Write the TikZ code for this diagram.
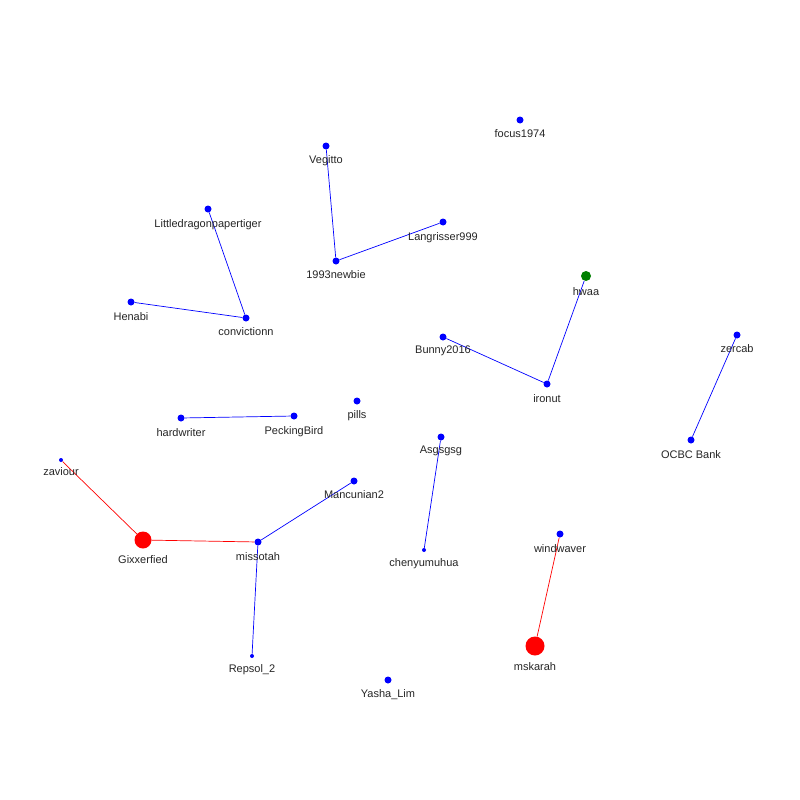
\documentclass[tikz,border=0pt]{standalone}
\usepackage{fontspec}
\setmainfont{Liberation Sans}
\begin{document}
\begin{tikzpicture}[x=1pt,y=-1pt,
  vtx/.style={circle,fill=blue,inner sep=0pt,minimum size=7pt},
  tiny/.style={circle,fill=blue,inner sep=0pt,minimum size=4pt},
  big/.style={circle,fill=red,inner sep=0pt,minimum size=17pt},
  grn/.style={circle,fill=green!50!black,inner sep=0pt,minimum size=10pt},
  lab/.style={font=\fontsize{11}{13}\selectfont,text=black!85,inner sep=0pt,anchor=north},
  bl/.style={blue,line width=0.7pt},
  rd/.style={red,line width=0.7pt}]
\useasboundingbox (0,0) rectangle (800,800);
\fill[white] (0,0) rectangle (800,800);
% nodes
\node[vtx] (focus) at (520,120) {};
\node[vtx] (veg) at (326,146) {};
\node[vtx] (little) at (208,209) {};
\node[vtx] (lang) at (443,222) {};
\node[vtx] (newbie) at (336,261) {};
\node[grn] (hwaa) at (586,276) {};
\node[vtx] (henabi) at (131,302) {};
\node[vtx] (conv) at (246,318) {};
\node[vtx] (zercab) at (737,335) {};
\node[vtx] (bunny) at (443,337) {};
\node[vtx] (ironut) at (547,384) {};
\node[vtx] (pills) at (357,401) {};
\node[vtx] (hard) at (181,418) {};
\node[vtx] (peck) at (294,416) {};
\node[vtx] (asg) at (441,437) {};
\node[vtx] (ocbc) at (691,440) {};
\node[tiny] (zav) at (61,460) {};
\node[vtx] (manc) at (354,481) {};
\node[vtx] (wind) at (560,534) {};
\node[big] (gix) at (143,540) {};
\node[vtx] (miss) at (258,542) {};
\node[tiny] (chen) at (424,550) {};
\node[big,minimum size=19pt] (msk) at (535,646) {};
\node[tiny] (rep) at (252,656) {};
\node[vtx] (yasha) at (388,680) {};
% edges
\draw[bl] (veg) -- (newbie);
\draw[bl] (newbie) -- (lang);
\draw[bl] (little) -- (conv);
\draw[bl] (henabi) -- (conv);
\draw[bl] (hwaa) -- (ironut);
\draw[bl] (bunny) -- (ironut);
\draw[bl] (zercab) -- (ocbc);
\draw[bl] (hard) -- (peck);
\draw[bl] (asg) -- (chen);
\draw[rd] (zav) -- (gix);
\draw[rd] (gix) -- (miss);
\draw[bl] (miss) -- (manc);
\draw[bl] (miss) -- (rep);
\draw[rd] (wind) -- (msk);
% labels
\node[lab] (l1) at (520,129) {focus1974};
\node[lab] (l2) at (326,155) {Vegitto};
\node[lab] (l3) at (208,219) {Littledragonpapertiger};
\node[lab] (l4) at (443,232) {Langrisser999};
\node[lab] (l5) at (336,270) {1993newbie};
\node[lab] (l6) at (586,287) {hwaa};
\node[lab] (l7) at (131,312) {Henabi};
\node[lab] (l8) at (246,327) {convictionn};
\node[lab] (l9) at (737,344) {zercab};
\node[lab] (l10) at (443,346) {Bunny2016};
\node[lab] (l11) at (547,394) {ironut};
\node[lab] (l12) at (357,410) {pills};
\node[lab] (l13) at (181,428) {hardwriter};
\node[lab] (l14) at (294,426) {PeckingBird};
\node[lab] (l15) at (441,446) {Asgsgsg};
\node[lab] (l16) at (691,450) {OCBC Bank};
\node[lab] (l17) at (61,467) {zaviour};
\node[lab] (l18) at (354,490) {Mancunian2};
\node[lab] (l19) at (560,544) {windwaver};
\node[lab] (l20) at (143,555) {Gixxerfied};
\node[lab] (l21) at (258,552) {missotah};
\node[lab] (l22) at (424,558) {chenyumuhua};
\node[lab] (l23) at (535,662) {mskarah};
\node[lab] (l24) at (252,664) {Repsol\_2};
\node[lab] (l25) at (388,689) {Yasha\_Lim};
\end{tikzpicture}
\end{document}
